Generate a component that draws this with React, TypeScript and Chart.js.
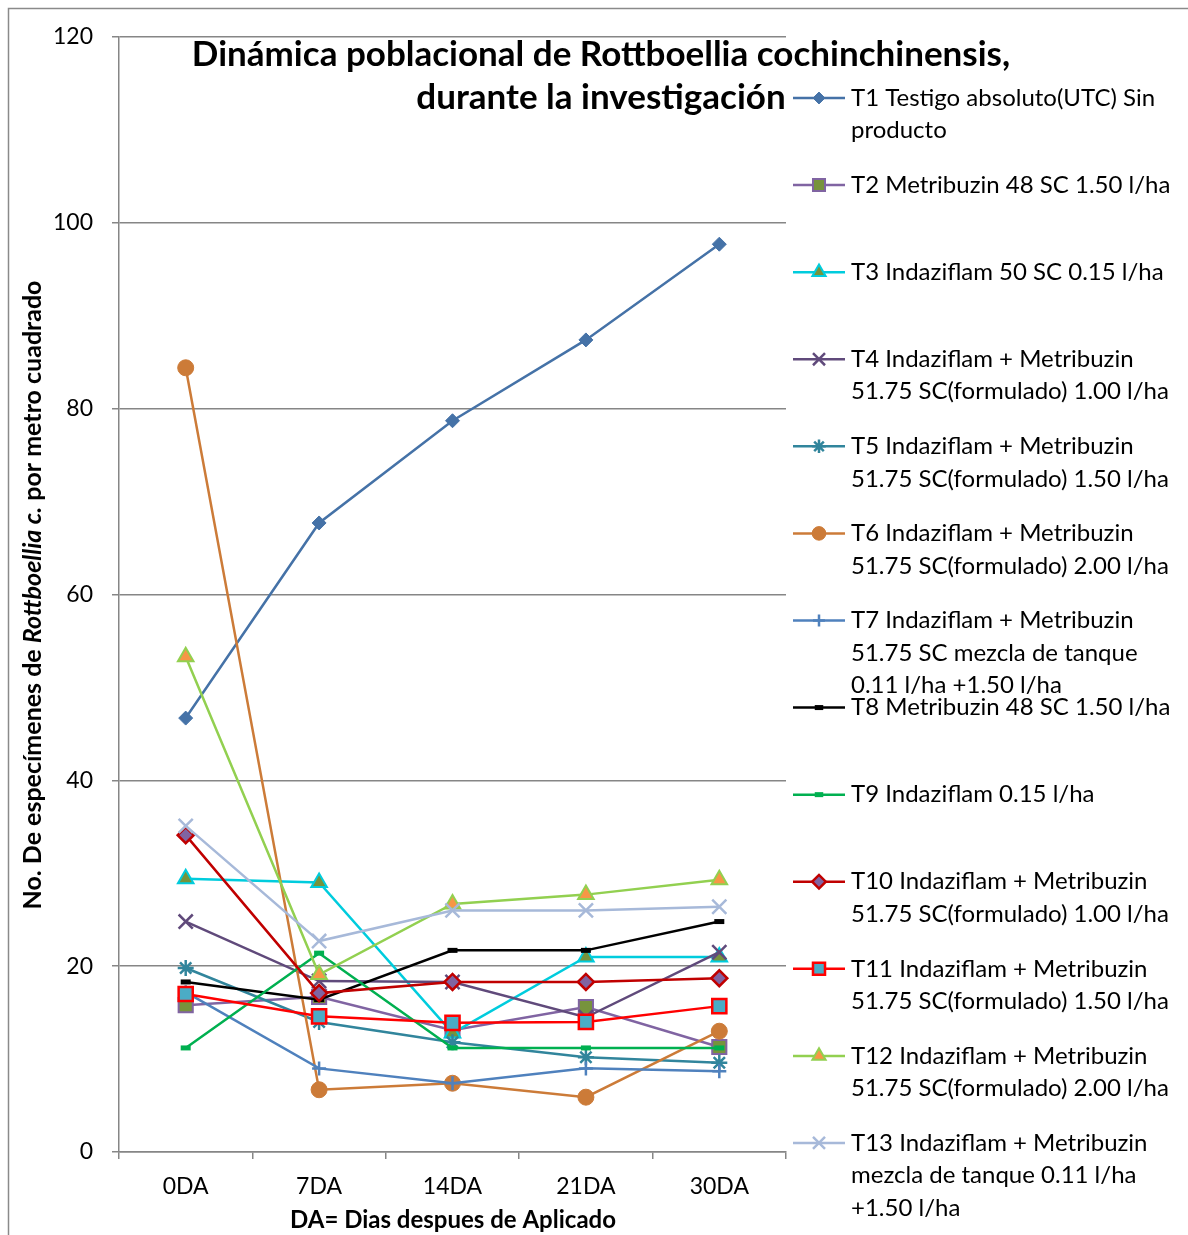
import React, { useEffect, useRef } from 'react';
import { Chart, registerables } from 'chart.js';
import { drawPoint } from 'chart.js/helpers';

Chart.register(...registerables);

const categories = ['0DA', '7DA', '14DA', '21DA', '30DA'];
const yTicks = [0, 20, 40, 60, 80, 100, 120];

const t1 = [46.7, 67.7, 78.7, 87.4, 97.7];
const t2 = [15.8, 16.7, 13.1, 15.6, 11.3];
const t3 = [29.4, 29.0, 12.8, 21.0, 21.0];
const t4 = [24.8, 18.4, 18.3, 14.5, 21.5];
const t5 = [19.8, 14.0, 11.8, 10.2, 9.6];
const t6 = [84.4, 6.7, 7.4, 5.9, 13.0];
const t7 = [17.2, 9.0, 7.4, 9.0, 8.7];
const t8 = [18.3, 16.4, 21.7, 21.7, 24.8];
const t9 = [11.2, 21.4, 11.2, 11.2, 11.2];
const t10 = [34.1, 17.1, 18.3, 18.3, 18.7];
const t11 = [17.0, 14.6, 13.9, 14.0, 15.7];
const t12 = [53.3, 19.1, 26.7, 27.7, 29.3];
const t13 = [35.1, 22.7, 26.0, 26.0, 26.4];

const legendLabels: string[][] = [
  ['T1 Testigo absoluto(UTC) Sin', 'producto'],
  ['T2 Metribuzin 48 SC 1.50 l/ha'],
  ['T3 Indaziflam 50 SC 0.15 l/ha'],
  ['T4 Indaziflam + Metribuzin', '51.75 SC(formulado) 1.00 l/ha'],
  ['T5 Indaziflam + Metribuzin', '51.75 SC(formulado) 1.50 l/ha'],
  ['T6 Indaziflam + Metribuzin', '51.75 SC(formulado) 2.00 l/ha'],
  ['T7 Indaziflam + Metribuzin', '51.75 SC mezcla de tanque', '0.11 l/ha +1.50 l/ha'],
  ['T8 Metribuzin 48 SC 1.50 l/ha'],
  ['T9 Indaziflam 0.15 l/ha'],
  ['T10 Indaziflam + Metribuzin', '51.75 SC(formulado) 1.00 l/ha'],
  ['T11 Indaziflam + Metribuzin', '51.75 SC(formulado) 1.50 l/ha'],
  ['T12 Indaziflam + Metribuzin', '51.75 SC(formulado) 2.00 l/ha'],
  ['T13 Indaziflam + Metribuzin', 'mezcla de tanque 0.11 l/ha', '+1.50 l/ha'],
];

const titleLines = ['Dinámica poblacional de Rottboellia cochinchinensis,', 'durante la investigación'];
const yTitleParts = [
  { text: 'No. De especímenes de ', italic: false },
  { text: 'Rottboellia c.', italic: true },
  { text: ' por metro cuadrado', italic: false },
];
const xTitle = 'DA= Dias despues de Aplicado';

const seriesData = [t1, t2, t3, t4, t5, t6, t7, t8, t9, t10, t11, t12, t13];

const styles = [
  { line: '#4572A7', fill: '#4572A7', border: '#4572A7', style: 'rectRot', r: 7, bw: 1 },
  { line: '#8064A2', fill: '#77933C', border: '#8064A2', style: 'rect', r: 10, bw: 2 },
  { line: '#00CCDD', fill: '#77933C', border: '#00CCDD', style: 'triangle', r: 9, bw: 2 },
  { line: '#604A7B', fill: '#604A7B', border: '#604A7B', style: 'crossRot', r: 10, bw: 2.5 },
  { line: '#31859C', fill: '#31859C', border: '#31859C', style: 'star', r: 8, bw: 2.5 },
  { line: '#CC7B38', fill: '#CC7B38', border: '#CC7B38', style: 'circle', r: 8, bw: 1 },
  { line: '#4F81BD', fill: '#4F81BD', border: '#4F81BD', style: 'cross', r: 7, bw: 2.5 },
  { line: '#000000', fill: '#000000', border: '#000000', style: 'line', r: 5, bw: 5 },
  { line: '#00B050', fill: '#00B050', border: '#00B050', style: 'line', r: 5, bw: 5 },
  { line: '#C00000', fill: '#8064A2', border: '#C00000', style: 'rectRot', r: 8, bw: 2.5 },
  { line: '#FF0000', fill: '#4BACC6', border: '#FF0000', style: 'rect', r: 10, bw: 2.5 },
  { line: '#92D050', fill: '#F79646', border: '#92D050', style: 'triangle', r: 9, bw: 2 },
  { line: '#A7B9D9', fill: '#A7B9D9', border: '#A7B9D9', style: 'crossRot', r: 10, bw: 2.5 },
];

const FONT = 'Lato, "Open Sans", sans-serif';

const decorPlugin = {
  id: 'decor',
  afterDraw(chart: any) {
    const ctx: CanvasRenderingContext2D = chart.ctx;
    ctx.save();
    // outer border
    ctx.strokeStyle = '#8a8a8a';
    ctx.lineWidth = 1.5;
    ctx.beginPath();
    ctx.moveTo(8.5, 1235);
    ctx.lineTo(8.5, 8.5);
    ctx.lineTo(1188, 8.5);
    ctx.stroke();

    // title
    ctx.fillStyle = '#000';
    ctx.textAlign = 'center';
    ctx.textBaseline = 'middle';
    ctx.font = `bold 35px ${FONT}`;
    ctx.fillText(titleLines[0], 601, 55);
    ctx.fillText(titleLines[1], 601, 98);

    // y title
    ctx.save();
    ctx.translate(33, 595);
    ctx.rotate(-Math.PI / 2);
    ctx.textAlign = 'left';
    const fonts = yTitleParts.map(p => (p.italic ? `italic bold 25px ${FONT}` : `bold 25px ${FONT}`));
    let total = 0;
    const widths = yTitleParts.map((p, i) => {
      ctx.font = fonts[i];
      const w = ctx.measureText(p.text).width;
      total += w;
      return w;
    });
    let x = -total / 2;
    yTitleParts.forEach((p, i) => {
      ctx.font = fonts[i];
      ctx.fillText(p.text, x, 0);
      x += widths[i];
    });
    ctx.restore();

    // x title
    ctx.font = `bold 24px ${FONT}`;
    ctx.textAlign = 'center';
    ctx.fillText(xTitle, 453, 1220);

    // legend
    ctx.font = `24px ${FONT}`;
    ctx.textAlign = 'left';
    legendLabels.forEach((lines, i) => {
      const y = 98 + i * 87.08;
      const s = styles[i];
      ctx.strokeStyle = s.line;
      ctx.lineWidth = 2.5;
      ctx.beginPath();
      ctx.moveTo(793, y);
      ctx.lineTo(845, y);
      ctx.stroke();
      ctx.fillStyle = s.fill;
      ctx.strokeStyle = s.border;
      ctx.lineWidth = s.bw;
      drawPoint(ctx, { pointStyle: s.style, radius: s.r * 0.85, rotation: 0, borderWidth: s.bw }, 819, y);
      ctx.fillStyle = '#000';
      lines.forEach((t, k) => {
        ctx.fillText(t, 851, y + k * 32.5);
      });
    });
    ctx.restore();
  },
};

export default function App() {
  const ref = useRef<HTMLCanvasElement>(null);
  useEffect(() => {
    if (!ref.current) return;
    const datasets = seriesData.map((d, i) => {
      const s = styles[i];
      return {
        label: legendLabels[i].join(' '),
        data: d,
        borderColor: s.line,
        backgroundColor: s.fill,
        borderWidth: 2.5,
        pointStyle: s.style,
        pointRadius: s.r,
        pointBackgroundColor: s.fill,
        pointBorderColor: s.border,
        pointBorderWidth: s.bw,
        tension: 0,
        order: seriesData.length - i,
      };
    });
    const chart = new Chart(ref.current, {
      type: 'line',
      data: { labels: categories, datasets },
      options: {
        responsive: false,
        animation: false,
        devicePixelRatio: 1,
        layout: { padding: { left: 8, top: 37, right: 402, bottom: 0 } },
        plugins: { legend: { display: false }, title: { display: false }, tooltip: { enabled: false } },
        scales: {
          x: {
            type: 'category',
            offset: true,
            grid: { offset: true, drawOnChartArea: false, drawTicks: true, tickLength: 7, color: '#868686', lineWidth: 1.5 },
            border: { color: '#868686', width: 1.5 },
            ticks: { font: { family: FONT, size: 23 }, color: '#000', padding: 14 },
            afterFit: (s: any) => { s.height = 83; },
          },
          y: {
            min: 0,
            max: 120,
            afterBuildTicks: (s: any) => { s.ticks = yTicks.map(v => ({ value: v })); },
            grid: { color: '#868686', lineWidth: 1.5, tickLength: 7 },
            border: { color: '#868686', width: 1.5 },
            ticks: { font: { family: FONT, size: 23 }, color: '#000', padding: 19 },
            afterFit: (s: any) => { s.width = 111; },
          },
        },
      },
      plugins: [decorPlugin],
    } as any);
    return () => chart.destroy();
  }, []);
  return (
    <div style={{ position: 'absolute', left: 0, top: 0, width: 1188, height: 1235, background: '#fff' }}>
      <canvas ref={ref} width={1188} height={1235} style={{ display: 'block' }} />
    </div>
  );
}
